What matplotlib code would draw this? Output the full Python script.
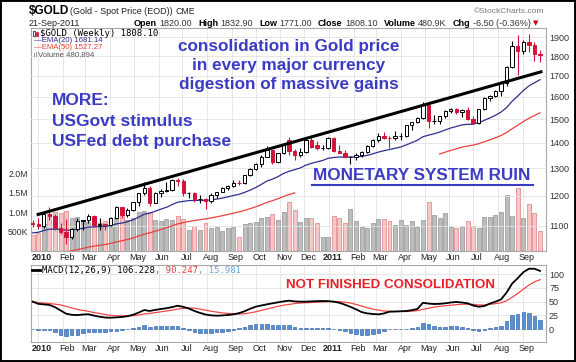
import numpy as np
import pandas as pd
import matplotlib
matplotlib.use("Agg")
import matplotlib.pyplot as plt
import matplotlib.dates as mdates
from matplotlib.lines import Line2D
from matplotlib.patches import Rectangle
from matplotlib.ticker import NullLocator, NullFormatter

W, H = 576, 362

# --- weekly bars: week ending 25-Dec-2009 .. 23-Sep-2011 (last one partial) ---
FIRST_WEEK = "2009-12-25"

opens = [1110, 1106, 1100, 1138, 1131, 1092, 1081, 1064, 1090, 1117,
         1118, 1133, 1104, 1106, 1104, 1125, 1161, 1136, 1153, 1180,
         1209, 1229, 1176, 1212, 1219, 1221, 1256, 1255, 1209, 1210,
         1189, 1190, 1181, 1203, 1215, 1227, 1236, 1247, 1246, 1275,
         1297, 1317, 1345, 1370, 1325, 1358, 1410, 1366, 1352, 1362,
         1413, 1390, 1379, 1380, 1421, 1369, 1361, 1343, 1344, 1351,
         1362, 1388, 1411, 1429, 1420, 1419, 1426, 1429, 1474, 1486,
         1505, 1563, 1491, 1493, 1512, 1536, 1542, 1529, 1539, 1500,
         1483, 1542, 1594, 1602, 1628, 1663, 1744, 1852, 1828, 1877,
         1857, 1812]
highs = [1118, 1125, 1140, 1162, 1140, 1108, 1123, 1092, 1127, 1120,
         1140, 1136, 1127, 1110, 1130, 1166, 1162, 1160, 1180, 1212,
         1249, 1235, 1215, 1225, 1250, 1260, 1266, 1262, 1215, 1214,
         1203, 1192, 1210, 1215, 1230, 1240, 1258, 1258, 1277, 1300,
         1321, 1350, 1387, 1373, 1359, 1398, 1424, 1375, 1378, 1415,
         1431, 1408, 1392, 1424, 1422, 1390, 1372, 1349, 1358, 1368,
         1391, 1415, 1440, 1445, 1428, 1447, 1440, 1476, 1489, 1509,
         1575, 1577, 1516, 1515, 1538, 1549, 1548, 1545, 1555, 1512,
         1545, 1598, 1610, 1632, 1675, 1750, 1880, 1913, 1887, 1920,
         1875, 1832]
lows = [1096, 1090, 1094, 1120, 1088, 1074, 1044, 1058, 1085, 1087,
        1108, 1100, 1086, 1088, 1100, 1122, 1125, 1130, 1150, 1165,
        1205, 1166, 1175, 1195, 1214, 1218, 1234, 1200, 1192, 1180,
        1176, 1155, 1175, 1192, 1213, 1220, 1232, 1240, 1243, 1270,
        1293, 1306, 1342, 1318, 1320, 1354, 1350, 1330, 1345, 1360,
        1380, 1372, 1373, 1376, 1365, 1359, 1340, 1318, 1330, 1342,
        1360, 1385, 1405, 1415, 1381, 1410, 1412, 1422, 1455, 1484,
        1500, 1462, 1478, 1480, 1505, 1525, 1522, 1510, 1496, 1478,
        1480, 1540, 1580, 1598, 1605, 1650, 1740, 1705, 1812, 1820,
        1775, 1771]
closes = [1106, 1100, 1138, 1131, 1092, 1081, 1064, 1090, 1117, 1118,
          1133, 1104, 1106, 1104, 1125, 1161, 1136, 1153, 1180, 1209,
          1229, 1176, 1212, 1219, 1221, 1256, 1255, 1209, 1210, 1189,
          1190, 1181, 1203, 1215, 1227, 1236, 1247, 1246, 1275, 1297,
          1317, 1345, 1370, 1325, 1358, 1393, 1366, 1352, 1362, 1413,
          1385, 1379, 1380, 1421, 1369, 1361, 1343, 1344, 1351, 1362,
          1388, 1411, 1429, 1420, 1419, 1426, 1429, 1474, 1486, 1505,
          1563, 1491, 1493, 1512, 1536, 1542, 1529, 1539, 1500, 1483,
          1542, 1594, 1602, 1628, 1663, 1744, 1852, 1828, 1877, 1857,
          1812, 1808]
# weekly volume, millions
volume_m = [0.40, 0.45, 0.70, 0.95, 1.00, 0.98, 1.02, 0.85, 0.88, 0.80,
            0.75, 0.85, 0.72, 0.78, 0.62, 0.88, 0.95, 0.80, 0.85, 1.00,
            1.02, 1.00, 0.80, 0.78, 0.82, 0.80, 0.90, 0.82, 0.55, 0.65,
            0.55, 0.72, 0.60, 0.62, 0.52, 0.58, 0.62, 0.35, 0.70, 0.72,
            0.75, 0.85, 0.88, 0.95, 0.80, 1.01, 1.26, 1.05, 0.75, 0.84,
            0.85, 0.71, 0.35, 0.37, 0.91, 0.84, 0.73, 1.09, 0.78, 0.62,
            0.58, 0.71, 0.81, 0.81, 0.78, 0.67, 0.79, 0.67, 0.78, 0.62,
            0.79, 1.26, 0.92, 0.84, 0.98, 0.62, 0.58, 0.65, 0.78, 0.65,
            0.58, 0.88, 0.86, 0.92, 1.01, 1.44, 0.90, 1.61, 0.84, 1.20,
            0.97, 0.52]
ema20 = [1078.0, 1080.1, 1085.5, 1089.8, 1090.0, 1089.1, 1086.7, 1087.0, 1089.9, 1092.6,
         1096.4, 1097.1, 1097.9, 1098.5, 1101.0, 1106.7, 1109.5, 1113.6, 1119.9, 1128.4,
         1138.0, 1141.6, 1148.3, 1155.0, 1161.3, 1170.3, 1178.4, 1181.3, 1184.0, 1184.5,
         1185.0, 1184.6, 1186.4, 1189.1, 1192.7, 1196.8, 1201.6, 1205.8, 1212.4, 1220.5,
         1229.7, 1240.7, 1253.0, 1259.9, 1269.2, 1281.0, 1289.1, 1295.1, 1301.5, 1312.1,
         1319.0, 1324.7, 1330.0, 1338.7, 1341.6, 1343.4, 1343.4, 1343.5, 1344.2, 1345.9,
         1349.9, 1355.7, 1362.7, 1368.2, 1373.0, 1378.0, 1382.9, 1391.6, 1400.6, 1410.5,
         1425.0, 1431.3, 1437.2, 1444.3, 1453.0, 1461.5, 1467.9, 1474.7, 1477.1, 1477.7,
         1483.8, 1494.3, 1504.5, 1516.3, 1530.3, 1550.6, 1579.3, 1603.0, 1629.1, 1650.8,
         1666.1, 1681.1]
ema50 = [999.4, 1003.3, 1008.6, 1013.3, 1016.4, 1019.0, 1020.7, 1023.5, 1027.1, 1030.6,
         1034.7, 1037.4, 1040.0, 1042.5, 1045.8, 1050.3, 1053.7, 1057.6, 1062.4, 1068.2,
         1074.4, 1078.4, 1083.6, 1088.9, 1094.1, 1100.5, 1106.5, 1110.6, 1114.5, 1117.4,
         1120.3, 1122.7, 1125.9, 1129.3, 1133.2, 1137.3, 1141.6, 1145.7, 1150.8, 1156.6,
         1162.8, 1170.0, 1177.9, 1183.6, 1190.5, 1198.5, 1205.1, 1210.8, 1216.7, 1224.5,
         1230.8, 1236.6, 1242.2, 1249.3, 1253.9, 1258.1, 1261.4, 1264.7, 1268.0, 1271.7,
         1276.3, 1281.6, 1287.4, 1292.6, 1297.5, 1302.5, 1307.5, 1314.0, 1320.7, 1328.0,
         1337.2, 1343.2, 1349.1, 1355.4, 1362.5, 1369.5, 1375.8, 1382.2, 1386.8, 1390.6,
         1396.5, 1404.2, 1412.0, 1420.4, 1429.9, 1442.2, 1458.3, 1472.8, 1488.6, 1503.0,
         1515.1, 1527.3]
EMA50_HIDDEN = (48, 72)   # weeks where the annotation covers the red line

macd = [50.0, 46.0, 45.0, 44.0, 40.0, 34.0, 28.0, 26.0, 25.5, 26.5,
        27.0, 24.5, 22.5, 21.0, 20.7, 21.3, 22.0, 23.5, 26.0, 30.0,
        34.7, 33.0, 35.0, 36.6, 38.0, 40.0, 42.6, 40.5, 37.5, 33.0,
        29.5, 26.5, 25.0, 24.4, 24.8, 25.6, 26.8, 29.0, 32.5, 37.0,
        40.8, 43.0, 45.1, 47.0, 48.8, 50.5, 51.8, 50.5, 50.0, 50.0,
        50.5, 51.0, 51.2, 51.0, 50.0, 48.0, 44.5, 40.5, 36.0, 31.0,
        28.6, 27.5, 26.8, 28.5, 31.7, 32.0, 32.5, 32.9, 34.5, 36.6,
        48.0, 46.5, 45.7, 46.0, 47.0, 48.5, 49.4, 48.5, 47.0, 43.0,
        40.8, 42.0, 46.5, 50.0, 54.0, 66.7, 83.0, 93.0, 103.7, 110.2,
        110.2, 106.2]
signal = [50.0, 48.5, 47.5, 46.5, 45.5, 44.0, 41.5, 38.5, 36.0, 34.0,
          32.5, 30.0, 28.5, 26.5, 25.0, 24.3, 24.0, 24.0, 24.5, 25.5,
          27.5, 28.6, 30.0, 31.5, 33.0, 34.5, 36.5, 37.8, 38.5, 38.0,
          36.5, 34.5, 32.5, 31.0, 29.5, 28.5, 27.8, 27.5, 28.0, 29.5,
          31.5, 34.0, 36.6, 39.0, 41.5, 43.5, 45.0, 46.5, 47.5, 48.0,
          48.5, 49.0, 49.5, 50.0, 50.0, 50.0, 49.0, 47.5, 45.0, 42.0,
          39.0, 36.5, 34.5, 33.0, 32.3, 32.0, 32.0, 32.0, 32.5, 33.5,
          36.0, 38.0, 40.0, 41.5, 42.5, 43.5, 44.5, 45.2, 45.5, 45.0,
          44.0, 44.0, 45.0, 46.4, 47.9, 51.7, 57.9, 64.9, 72.7, 80.2,
          86.2, 90.2]
hist = [-0.5, -2.5, -2.5, -2.5, -5.5, -10.0, -12.0, -11.5, -10.0, -7.5,
        -5.5, -5.5, -6.0, -5.5, -4.3, -3.0, -2.0, -0.5, 1.5, 4.5,
        6.5, 4.4, 5.0, 5.1, 5.0, 5.5, 6.1, 2.7, -1.0, -5.0,
        -7.0, -7.5, -7.0, -6.2, -4.7, -2.9, -1.0, 1.5, 4.5, 7.5,
        9.3, 9.0, 8.5, 8.0, 7.3, 7.0, 6.8, 4.0, 2.5, 2.0,
        2.0, 2.0, 1.7, 1.0, 0.3, -2.0, -4.5, -7.0, -9.0, -10.5,
        -10.4, -9.0, -7.7, -4.5, -0.6, 0.3, 0.5, 0.9, 2.0, 3.1,
        11.0, 8.5, 5.7, 4.5, 4.5, 5.0, 4.9, 3.3, 1.5, -2.0,
        -3.2, -2.0, 1.5, 3.6, 6.1, 15.0, 25.1, 28.1, 31.0, 30.0,
        24.0, 16.0]

# hand-drawn trend line over the highs
trend_dates = ["2009-12-30", "2011-09-26"]
trend_prices = [1136, 1722]

price_ticks = [1100, 1200, 1300, 1400, 1500, 1600, 1700, 1800, 1900]
vol_ticks = [0.5, 1.0, 1.5, 2.0]
vol_labels = ["500K", "1.0M", "1.5M", "2.0M"]
macd_ticks = [0, 25, 50, 75, 100]

RED = "#d2143a"
GRID = "#e3e3e3"
FRAME = "#a8a8a8"
ANN_BLUE = "#3b3bc4"
SANS = ["Liberation Sans", "DejaVu Sans"]
NARROW = ["Liberation Sans Narrow", "Liberation Sans", "DejaVu Sans"]
MONO = ["DejaVu Sans Mono"]

fig = plt.figure(figsize=(W / 100, H / 100), dpi=100)
fig.patch.set_facecolor("white")


def box(left, top, right, bottom):
    return [left / W, 1 - bottom / H, (right - left) / W, (bottom - top) / H]


def ftext(x, y, s, **kw):
    kw.setdefault("va", "center")
    return fig.text(x / W, 1 - y / H, s, **kw)


def frect(x0, y0, x1, y1, **kw):
    fig.add_artist(Rectangle((x0 / W, 1 - y1 / H), (x1 - x0) / W, (y1 - y0) / H,
                             transform=fig.transFigure, **kw))


def fline(x0, y0, x1, y1, **kw):
    fig.add_artist(Line2D([x0 / W, x1 / W], [1 - y0 / H, 1 - y1 / H],
                          transform=fig.transFigure, **kw))


def text_run(x, y, parts, size, family):
    r = fig.canvas.get_renderer()
    for s, color, weight, gap in parts:
        t = ftext(x, y, s, color=color, fontweight=weight, fontsize=size, family=family, ha="left")
        x = t.get_window_extent(renderer=r).x1 + gap
    return x


ax_v = fig.add_axes(box(31, 28, 546, 251))
ax_p = fig.add_axes(box(31, 28, 546, 251), sharex=ax_v)
ax_p.set_facecolor("none")
ax_m = fig.add_axes(box(31, 265, 546, 342), sharex=ax_v)

dates = pd.date_range(FIRST_WEEK, periods=len(closes), freq="7D")
x = mdates.date2num(dates)
o, h, l, c = (np.array(a, dtype=float) for a in (opens, highs, lows, closes))
prev = np.r_[o[0], c[:-1]]
down = c < prev
col = np.where(down, RED, "black")

x0 = mdates.date2num(pd.Timestamp(FIRST_WEEK))
ax_v.set_xlim(x0 - 2.1, x0 + 644.5)

# month grid + labels
months = pd.date_range("2010-01-01", "2011-09-01", freq="MS")
mx = mdates.date2num(months)
labels = [str(m.year) if m.month == 1 else m.strftime("%b") for m in months]
for ax in (ax_v, ax_m):
    for v in mx:
        ax.axvline(v, color=GRID, lw=0.6, zorder=0)

# volume
ax_v.bar(x, volume_m, width=5, color=np.where(down, "#f7c6c6", "#bdbdbd"),
         edgecolor=np.where(down, "#e39090", "#a0a0a0"), lw=0.6, zorder=1)
ax_v.set_ylim(0, 5.72)
ax_v.set_yticks(vol_ticks, vol_labels, fontsize=6.3, family=SANS, color="#333333")
ax_v.tick_params(axis="y", length=0, pad=2.2)

# price panel
ax_p.set_yscale("log")
ax_p.set_ylim(1023, 1953)
for p in price_ticks:
    ax_p.axhline(p, color=GRID, lw=0.6, zorder=0)
ax_p.yaxis.tick_right()
ax_p.yaxis.set_minor_locator(NullLocator())
ax_p.yaxis.set_minor_formatter(NullFormatter())
ax_p.set_yticks(price_ticks, [str(t) for t in price_ticks], fontsize=6.5, family=NARROW, color="#333333")
ax_p.tick_params(axis="y", length=0, pad=2.2)
ax_p.tick_params(axis="x", bottom=False, labelbottom=False)
for s in ax_p.spines.values():
    s.set_visible(False)

ax_p.plot(x, ema20, color="#2e2e90", lw=0.9, zorder=2)
e50 = np.array(ema50, dtype=float)
e50[EMA50_HIDDEN[0]:EMA50_HIDDEN[1] + 1] = np.nan
ax_p.plot(x, e50, color="#e8413c", lw=0.9, zorder=2)

ax_p.vlines(x, l, h, colors=col, lw=0.8, zorder=3)
face = np.where(c < o, col, "white")
ax_p.bar(x, np.abs(c - o), bottom=np.minimum(o, c), width=4.2, color=face,
         edgecolor=col, lw=0.7, zorder=4)
ax_p.plot(mdates.date2num(pd.to_datetime(trend_dates)), trend_prices, color="black",
          lw=2.2, solid_capstyle="butt", zorder=5)

# MACD panel
ax_m.set_ylim(-23.7, 117)
for v in macd_ticks:
    ax_m.axhline(v, color=GRID, lw=0.6, zorder=0)
ax_m.bar(x, hist, width=4.4, color="#5b8fd0", edgecolor="#3d6eb0", lw=0.5, zorder=2)
ax_m.plot(x, signal, color="#f04848", lw=0.9, zorder=3)
ax_m.plot(x, macd, color="black", lw=1.3, zorder=4)
ax_m.yaxis.tick_right()
ax_m.set_yticks(macd_ticks, [str(t) for t in macd_ticks], fontsize=6.5, family=NARROW, color="#333333")
ax_m.tick_params(axis="y", length=0, pad=2.2)

for ax in (ax_v, ax_m):
    for s in ax.spines.values():
        s.set_color(FRAME)
        s.set_linewidth(0.8)
ax_v.set_xticks(mx + 5, labels)
for ax in (ax_v, ax_m):
    ax.tick_params(axis="x", length=0, pad=1.5, labelbottom=True)
    for t, lab in zip(ax.get_xticklabels(), labels):
        t.set_fontsize(6.5)
        t.set_color("#222222")
        if lab.isdigit():
            t.set_family(SANS)
            t.set_fontweight("bold")
        else:
            t.set_family(NARROW)

# legends inside panels
frect(33, 30.5, 35, 36, facecolor="white", edgecolor="black", lw=0.5)
frect(36, 31.5, 38, 35.5, facecolor=RED, edgecolor=RED, lw=0.5)
ftext(40, 33.5, "$GOLD (Weekly) 1808.10", fontsize=6.5, family=MONO, color="black")
ftext(34, 40.5, "\u2014EMA(20) 1681.14", fontsize=5.6, family=NARROW, color="#2e2e90")
ftext(34, 47.5, "\u2014EMA(50) 1527.27", fontsize=5.6, family=NARROW, color="#e8413c")
frect(33.5, 53, 35, 57, facecolor="#999999", edgecolor="none")
frect(35.8, 52, 37.3, 57, facecolor="#999999", edgecolor="none")
ftext(38.5, 55, "Volume 480,894", fontsize=5.6, family=NARROW, color="#555555")

fline(32, 270, 40, 270, color="black", lw=2)
text_run(42, 270.5, [("MACD(12,26,9) 106.228", "black", "normal", 0),
                     (", 90.247", "#e8413c", "normal", 0),
                     (", 15.981", "#6aa3da", "normal", 0)], 6.4, MONO)

# header
text_run(29, 11, [("$GOLD", "black", "bold", 3)], 8.5, SANS)
ftext(70, 11.5, "(Gold - Spot Price (EOD))", fontsize=6.5, family=SANS, color="#222222")
ftext(176, 11.5, "CME", fontsize=6.3, family=SANS, color="#222222")
ftext(474, 11.5, "\u00a9StockCharts.com", fontsize=6, family=NARROW, color="#777777")
ftext(29, 23, "21-Sep-2011", fontsize=6.5, family=SANS, color="#222222")
end = text_run(134, 23, [("Open", "black", "bold", 2.5), ("1820.00", "#333333", "normal", 6),
                         ("High", "black", "bold", 2.5), ("1832.90", "#333333", "normal", 6),
                         ("Low", "black", "bold", 2.5), ("1771.00", "#333333", "normal", 6),
                         ("Close", "black", "bold", 2.5), ("1808.10", "#333333", "normal", 6),
                         ("Volume", "black", "bold", 2.5), ("480.9K", "#333333", "normal", 6),
                         ("Chg", "black", "bold", 2.5), ("-6.50 (-0.36%)", "#333333", "normal", 2)],
               6.5, SANS)
ftext(end, 23, "\u25bc", fontsize=5, family=["DejaVu Sans"], color="#cc0000", ha="left")

# annotations
ann = dict(family=SANS, fontweight="bold", color=ANN_BLUE, va="baseline")
for s, yb in zip(["consolidation in Gold price", "in every major currency",
                  "digestion of massive gains"], [51, 70, 89]):
    ftext(289, yb, s, fontsize=12.3, ha="center", **ann)
for s, yb in zip(["MORE:", "USGovt stimulus", "USFed debt purchase"], [105, 126, 146]):
    ftext(51.5, yb, s, fontsize=12.5, ha="left", **ann)
ftext(313, 180.5, "MONETARY SYSTEM RUIN", fontsize=12.3, ha="left", **ann)
fline(312, 185, 533, 185, color=ANN_BLUE, lw=1.5)
ftext(286, 288, "NOT FINISHED CONSOLIDATION", fontsize=9.6, family=SANS, fontweight="bold",
      color="#e8202a", ha="left", va="baseline")

# outer black frame
fig.add_artist(Rectangle((0, 0), 1, 1, transform=fig.transFigure, fill=False,
                         edgecolor="black", lw=2.8))

fig.savefig("out.png", dpi=100, facecolor="white")
